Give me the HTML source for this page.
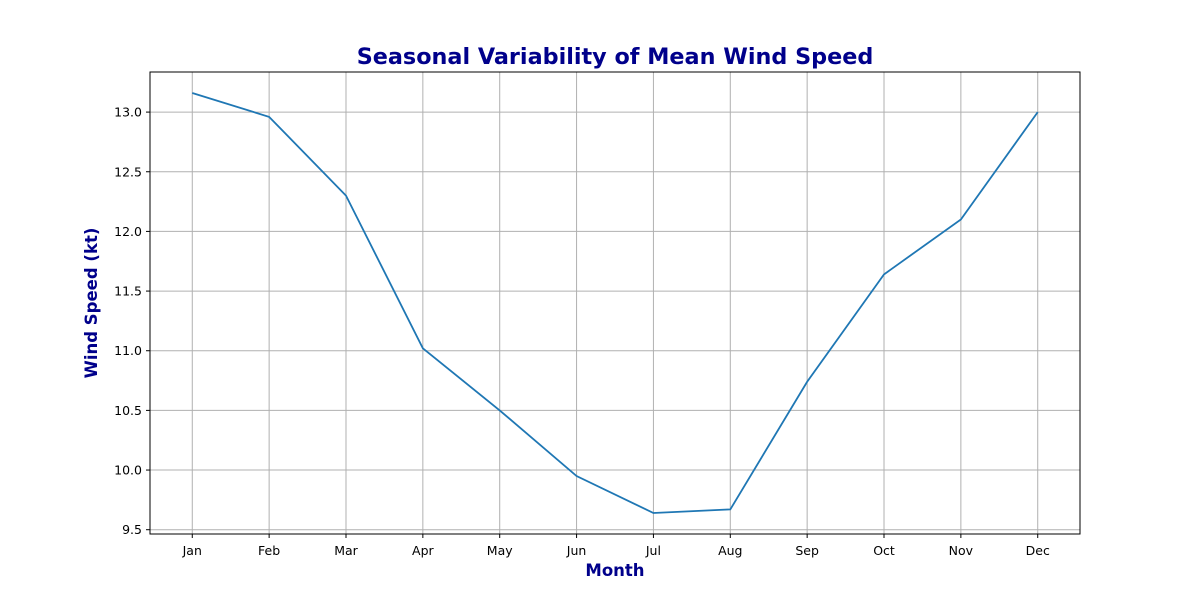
<!DOCTYPE html>
<html><head><meta charset="utf-8"><style>
body{margin:0;background:#fff;}
svg{display:block;font-family:"DejaVu Sans","Liberation Sans",sans-serif;}
</style></head><body>
<svg id="chart" width="1200" height="600">
<text x="615" y="64" text-anchor="middle" font-size="22.3" font-weight="bold" fill="#00008b">Seasonal Variability of Mean Wind Speed</text>
<g id="grid"></g>
<g id="xticks"></g>
<g id="yticks"></g>
<path id="line" fill="none" stroke="#1f77b4" stroke-width="1.8"></path>
<rect x="150" y="72" width="930" height="462" fill="none" stroke="#000" stroke-width="1"></rect>
<text x="615" y="576" text-anchor="middle" font-size="16.5" font-weight="bold" fill="#00008b">Month</text>
<text transform="translate(97,303) rotate(-90)" text-anchor="middle" font-size="16.5" font-weight="bold" fill="#00008b">Wind Speed (kt)</text>
</svg>
<script>
const months=["Jan","Feb","Mar","Apr","May","Jun","Jul","Aug","Sep","Oct","Nov","Dec"];
const windSpeed=[13.16,12.96,12.30,11.02,10.50,9.95,9.64,9.67,10.74,11.64,12.10,13.00];
const yTicks=[9.5,10.0,10.5,11.0,11.5,12.0,12.5,13.0];
const ns="http://www.w3.org/2000/svg";
const L=150,R=1080,T=72,B=534;
const n=months.length;
const pad=(R-L)/(n-1+2*0.55);
const xScale=i=>L+pad*0.55+i*((R-L-pad*1.1)/(n-1));
const mn=Math.min(...windSpeed),mx=Math.max(...windSpeed),rg=mx-mn;
const y0=mn-rg*0.05,y1=mx+rg*0.05;
const yScale=v=>B-(v-y0)/(y1-y0)*(B-T);
const grid=document.getElementById('grid'),xt=document.getElementById('xticks'),yt=document.getElementById('yticks');
function mk(tag,attrs,parent){const e=document.createElementNS(ns,tag);for(const k in attrs)e.setAttribute(k,attrs[k]);parent.appendChild(e);return e;}
months.forEach((m,i)=>{
  const x=xScale(i);
  const g=mk('line',{x1:x,x2:x,y1:T,y2:B,stroke:'#b0b0b0','stroke-width':1},grid);
  
  
  mk('line',{x1:x,x2:x,y1:B,y2:B+4,stroke:'#000'},xt);
  const t=mk('text',{x:x,y:B+21,'text-anchor':'middle','font-size':12.5,fill:'#000'},xt);
  t.textContent=m;
  
  
});
yTicks.forEach(v=>{
  const y=yScale(v);
  const g=mk('line',{x1:L,x2:R,y1:y,y2:y,stroke:'#b0b0b0','stroke-width':1},grid);
  
  
  mk('line',{x1:L-4,x2:L,y1:y,y2:y,stroke:'#000'},yt);
  const t=mk('text',{x:L-8,y:y+4.5,'text-anchor':'end','font-size':12.5,fill:'#000'},yt);
  t.textContent=v.toFixed(1);
  
  
});
document.getElementById('line').setAttribute('d',windSpeed.map((v,i)=>(i?'L':'M')+xScale(i)+','+yScale(v)).join(' '));
</script>
</body></html>
